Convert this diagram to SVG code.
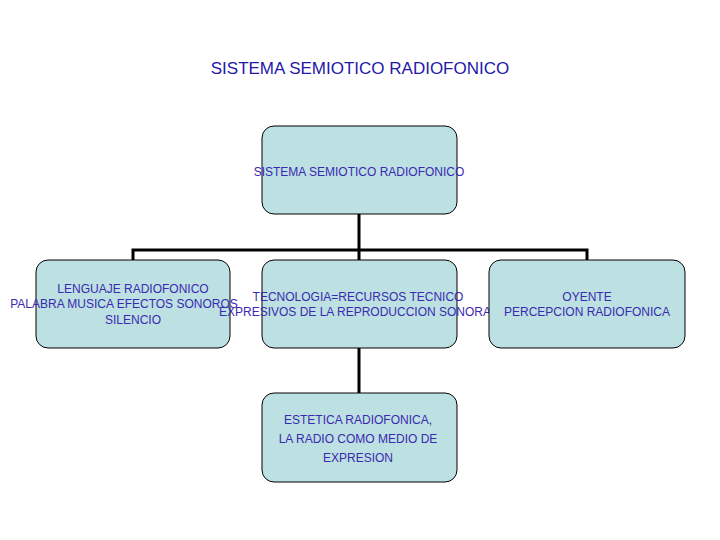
<svg xmlns="http://www.w3.org/2000/svg" width="720" height="540" viewBox="0 0 720 540">
<style>
.box{fill:#bde0e3;stroke:#000;stroke-width:1}
.t{font-family:"Liberation Sans",Arial,sans-serif;font-size:12px;fill:#3a2ab0;text-anchor:middle}
.c{stroke:#000;stroke-width:3;fill:none}
</style>
<rect width="720" height="540" fill="#fff"/>
<text x="360" y="74" font-family="Liberation Sans,Arial,sans-serif" font-size="17" fill="#2418a8" text-anchor="middle">SISTEMA SEMIOTICO RADIOFONICO</text>
<g id="connectors">
<path class="c" d="M359 214V250M133 260V250H587V260M359 250V260M359 348V393"/>
</g>
<g id="n0"><rect class="box" x="262" y="126" width="195" height="88" rx="12"/><text class="t" x="359" y="176">SISTEMA SEMIOTICO RADIOFONICO</text></g>
<g id="n1"><rect class="box" x="36" y="260" width="194" height="88" rx="12"/><text class="t" x="133" y="293">LENGUAJE RADIOFONICO</text><text class="t" x="124" y="308">PALABRA MUSICA EFECTOS SONOROS</text><text class="t" x="133" y="324">SILENCIO</text></g>
<g id="n2"><rect class="box" x="262" y="260" width="195" height="88" rx="12"/><text class="t" x="358" y="301">TECNOLOGIA=RECURSOS TECNICO</text><text class="t" x="355" y="316">EXPRESIVOS DE LA REPRODUCCION SONORA</text></g>
<g id="n3"><rect class="box" x="489" y="260" width="196" height="88" rx="12"/><text class="t" x="587" y="301">OYENTE</text><text class="t" x="587" y="316">PERCEPCION RADIOFONICA</text></g>
<g id="n4"><rect class="box" x="262" y="393" width="195" height="89" rx="12"/><text class="t" x="358" y="424" font-size="15">ESTETICA RADIOFONICA,</text><text class="t" x="358" y="443" font-size="15">LA RADIO COMO MEDIO DE</text><text class="t" x="358" y="462" font-size="15">EXPRESION</text></g>
</svg>
